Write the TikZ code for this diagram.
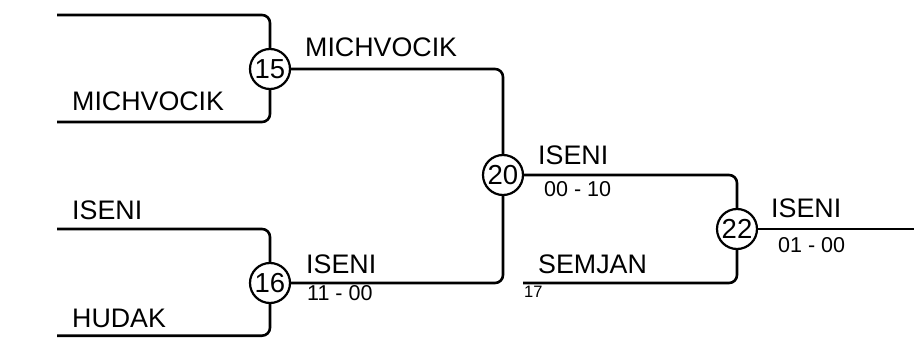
\documentclass[tikz,border=0pt]{standalone}
\usepackage{fontspec}
\setmainfont{Liberation Sans}
\begin{document}
\begin{tikzpicture}[x=1pt,y=1pt,
  wire/.style={line width=2.6pt, rounded corners=8pt},
  matchnum/.style={circle, draw, line width=2.2pt, minimum size=40pt, inner sep=0pt, font=\fontsize{27.5}{27.5}\selectfont},
  pname/.style={anchor=base west, inner sep=0pt, font=\fontsize{26.8}{26.8}\selectfont},
  score/.style={anchor=base west, inner sep=0pt, font=\fontsize{21.5}{21.5}\selectfont},
  seed/.style={anchor=base west, inner sep=0pt, font=\fontsize{16.5}{16.5}\selectfont}]
\useasboundingbox (0,0) rectangle (914,338);
% match circles
\node[matchnum] (c15) at (270,269) {15};
\node[matchnum] (c16) at (270,55) {16};
\node[matchnum] (c20) at (503,163) {20};
\node[matchnum] (c22) at (737,109) {22};
% free ends
\coordinate (a1) at (57,323);
\coordinate (a2) at (57,216);
\coordinate (b1) at (57,109);
\coordinate (b2) at (57,2.3);
\coordinate (s) at (523,55);
\coordinate (e) at (914,109);
% wires
\draw[wire] (a1) -| (c15);
\draw[wire] (a2) -| (c15);
\draw[wire] (b1) -| (c16);
\draw[wire] (b2) -| (c16);
\draw[wire] (c15) -| (c20);
\draw[wire] (c16) -| (c20);
\draw[wire] (c20) -| (c22);
\draw[wire] (s) -| (c22);
\draw[wire] (c22) -- (e);
% labels
\node[pname] (t1) at (305,281) {MICHVOCIK};
\node[pname] (t2) at (72,227) {MICHVOCIK};
\node[pname] (t3) at (72,119) {ISENI};
\node[pname] (t4) at (72,11) {HUDAK};
\node[pname] (t5) at (306,65) {ISENI};
\node[score] (s5) at (307,38) {11 - 00};
\node[pname] (t6) at (538,173) {ISENI};
\node[score] (s6) at (544,141) {00 - 10};
\node[pname] (t7) at (538,65) {SEMJAN};
\node[seed] (n17) at (524,41) {17};
\node[pname] (t8) at (771,121) {ISENI};
\node[score] (s8) at (778,86) {01 - 00};
\end{tikzpicture}
\end{document}
